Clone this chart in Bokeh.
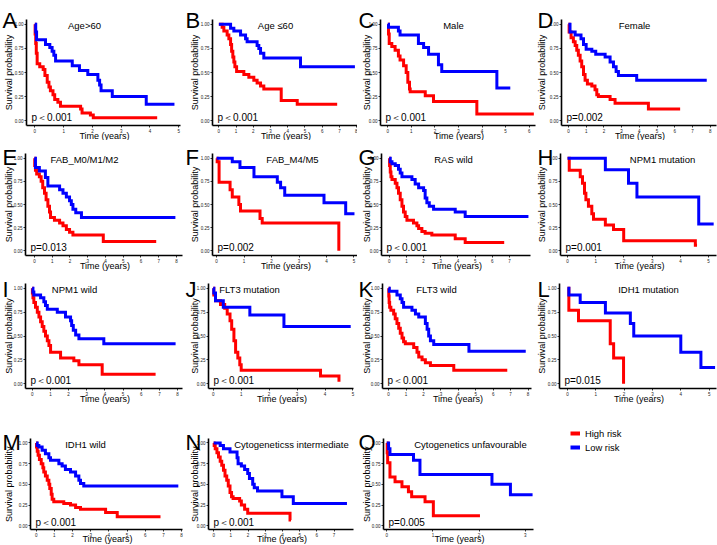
import math
from bokeh.plotting import figure
from bokeh.models import Range1d, FixedTicker, Label, Legend, LegendItem, NumeralTickFormatter
from bokeh.layouts import column, row
from bokeh.embed import file_html
from bokeh.resources import INLINE

# ---------------- data ----------------
panel_letters = ["A", "B", "C", "D", "E", "F", "G", "H", "I", "J", "K", "L", "M", "N", "O"]
panel_titles = ["Age>60", "Age \u226460", "Male", "Female", "FAB_M0/M1/M2", "FAB_M4/M5",
                "RAS wild", "NPM1 mutation", "NPM1 wild", "FLT3 mutation", "FLT3 wild",
                "IDH1 mutation", "IDH1 wild", "Cytogeneticss intermediate",
                "Cytogenetics unfavourable"]
p_values = ["p\uff1c0.001", "p\uff1c0.001", "p\uff1c0.001", "p=0.002", "p=0.013", "p=0.002",
            "p\uff1c0.001", "p=0.001", "p\uff1c0.001", "p\uff1c0.001", "p\uff1c0.001",
            "p=0.015", "p\uff1c0.001", "p\uff1c0.001", "p=0.005"]
x_tick_max = [5, 8, 6, 8, 8, 5, 7, 5, 8, 5, 8, 5, 8, 7, 3]
y_ticks = [0.0, 0.25, 0.5, 0.75, 1.0]
group_labels = ["High risk", "Low risk"]
x_axis_label = "Time (years)"
y_axis_label = "Survival probability"

A_high_time = [0, 0.01, 0.03, 0.05, 0.08, 0.17, 0.29, 0.35, 0.43, 0.49, 0.54, 0.63, 0.69, 0.80, 0.89, 1.59, 1.64, 1.93, 2.03, 4.25]
A_high_surv = [1.0, 0.90, 0.80, 0.70, 0.59, 0.56, 0.53, 0.47, 0.40, 0.35, 0.31, 0.27, 0.22, 0.19, 0.15, 0.12, 0.08, 0.06, 0.03, 0.03]
A_low_time = [0, 0.03, 0.06, 0.37, 0.52, 0.60, 0.66, 0.72, 1.30, 1.55, 1.84, 2.19, 2.25, 2.30, 2.69, 3.87, 4.85]
A_low_surv = [1.0, 0.92, 0.84, 0.79, 0.76, 0.72, 0.68, 0.62, 0.57, 0.52, 0.48, 0.42, 0.37, 0.31, 0.25, 0.17, 0.17]

B_high_time = [0, 0.19, 0.29, 0.48, 0.58, 0.68, 0.74, 0.81, 0.87, 0.93, 1.03, 1.45, 1.74, 2.03, 2.22, 2.42, 2.61, 3.62, 4.55, 6.87]
B_high_surv = [1.0, 0.97, 0.93, 0.89, 0.85, 0.79, 0.72, 0.66, 0.61, 0.56, 0.51, 0.48, 0.45, 0.42, 0.39, 0.36, 0.33, 0.21, 0.17, 0.17]
B_low_time = [0, 0.68, 0.87, 1.26, 1.55, 1.64, 2.22, 2.32, 2.42, 2.61, 4.74, 7.90]
B_low_surv = [1.0, 0.96, 0.93, 0.89, 0.85, 0.82, 0.78, 0.75, 0.70, 0.65, 0.56, 0.56]

C_high_time = [0, 0.03, 0.06, 0.17, 0.31, 0.45, 0.52, 0.67, 0.78, 0.85, 0.92, 0.95, 1.59, 1.94, 3.78, 6.20]
C_high_surv = [1.0, 0.90, 0.80, 0.77, 0.73, 0.67, 0.63, 0.57, 0.50, 0.40, 0.33, 0.30, 0.26, 0.20, 0.07, 0.07]
C_low_time = [0, 0.03, 0.45, 0.52, 1.30, 1.52, 1.73, 2.15, 2.29, 4.63, 5.20]
C_low_surv = [1.0, 0.97, 0.93, 0.89, 0.80, 0.76, 0.69, 0.58, 0.51, 0.34, 0.34]

D_high_time = [0, 0.04, 0.15, 0.28, 0.38, 0.47, 0.56, 0.66, 0.75, 0.85, 0.94, 1.07, 1.32, 1.50, 1.60, 1.69, 2.35, 2.63, 4.51, 6.30]
D_high_surv = [1.0, 0.92, 0.86, 0.82, 0.78, 0.73, 0.68, 0.62, 0.56, 0.48, 0.42, 0.38, 0.36, 0.32, 0.27, 0.25, 0.22, 0.18, 0.12, 0.12]
D_low_time = [0, 0.09, 0.38, 0.71, 0.85, 1.00, 1.32, 1.54, 2.07, 2.35, 2.54, 2.69, 2.82, 3.85, 7.80]
D_low_surv = [1.0, 0.92, 0.89, 0.85, 0.79, 0.74, 0.72, 0.69, 0.66, 0.61, 0.56, 0.51, 0.47, 0.42, 0.42]

E_high_time = [0, 0.02, 0.06, 0.13, 0.28, 0.38, 0.47, 0.57, 0.66, 0.76, 0.85, 0.91, 1.13, 1.42, 1.61, 1.80, 1.98, 2.17, 3.88, 6.86]
E_high_surv = [1.0, 0.92, 0.87, 0.83, 0.80, 0.75, 0.68, 0.62, 0.55, 0.48, 0.42, 0.36, 0.33, 0.30, 0.27, 0.23, 0.20, 0.17, 0.10, 0.10]
E_low_time = [0, 0.06, 0.28, 0.62, 0.76, 1.42, 1.61, 1.80, 1.98, 2.08, 2.17, 2.33, 2.65, 7.94]
E_low_surv = [1.0, 0.90, 0.86, 0.79, 0.70, 0.66, 0.62, 0.58, 0.54, 0.50, 0.45, 0.41, 0.36, 0.36]

F_high_time = [0, 0.02, 0.09, 0.49, 0.57, 0.81, 0.87, 1.58, 1.66, 4.45]
F_high_surv = [1.0, 0.96, 0.74, 0.66, 0.58, 0.50, 0.43, 0.35, 0.30, 0.0]
F_low_time = [0, 0.57, 0.85, 1.36, 2.21, 2.33, 2.48, 3.91, 4.70, 5.02]
F_low_surv = [1.0, 0.96, 0.90, 0.80, 0.74, 0.68, 0.60, 0.52, 0.40, 0.40]

G_high_time = [0, 0.02, 0.06, 0.10, 0.16, 0.35, 0.45, 0.54, 0.64, 0.74, 0.83, 0.93, 1.03, 1.41, 1.61, 1.71, 1.90, 2.09, 2.48, 3.84, 4.42, 6.69]
G_high_surv = [1.0, 0.92, 0.85, 0.80, 0.77, 0.73, 0.68, 0.62, 0.55, 0.48, 0.42, 0.37, 0.33, 0.30, 0.27, 0.24, 0.21, 0.19, 0.17, 0.13, 0.09, 0.09]
G_low_time = [0, 0.06, 0.16, 0.35, 0.54, 0.64, 0.74, 1.32, 1.51, 1.71, 2.00, 2.09, 2.19, 2.33, 2.58, 3.84, 4.42, 8.10]
G_low_surv = [1.0, 0.96, 0.94, 0.92, 0.88, 0.84, 0.80, 0.77, 0.72, 0.68, 0.65, 0.57, 0.52, 0.48, 0.45, 0.42, 0.37, 0.37]

H_high_time = [0, 0.06, 0.45, 0.53, 0.60, 0.65, 0.74, 0.86, 0.92, 1.34, 1.63, 1.99, 4.53, 4.59]
H_high_surv = [1.0, 0.87, 0.80, 0.73, 0.62, 0.55, 0.48, 0.40, 0.34, 0.28, 0.23, 0.11, 0.06, 0.06]
H_low_time = [0, 1.34, 2.16, 2.46, 4.65, 5.18]
H_low_surv = [1.0, 0.875, 0.73, 0.58, 0.29, 0.29]

I_high_time = [0, 0.01, 0.04, 0.09, 0.18, 0.28, 0.37, 0.46, 0.55, 0.64, 0.73, 0.83, 0.92, 1.01, 1.56, 2.29, 2.57, 3.85, 6.79]
I_high_surv = [1.0, 0.95, 0.90, 0.85, 0.80, 0.75, 0.70, 0.65, 0.60, 0.55, 0.50, 0.45, 0.40, 0.33, 0.27, 0.24, 0.20, 0.10, 0.10]
I_low_time = [0, 0.04, 0.09, 0.46, 0.64, 0.73, 0.83, 1.38, 1.83, 2.11, 2.17, 2.26, 2.39, 2.57, 3.94, 7.89]
I_low_surv = [1.0, 0.96, 0.93, 0.90, 0.86, 0.82, 0.78, 0.75, 0.70, 0.66, 0.61, 0.56, 0.51, 0.47, 0.42, 0.42]

J_high_time = [0, 0.02, 0.08, 0.26, 0.41, 0.50, 0.60, 0.66, 0.74, 0.80, 0.88, 0.95, 1.00, 3.84, 4.50]
J_high_surv = [1.0, 0.93, 0.87, 0.83, 0.79, 0.73, 0.66, 0.57, 0.45, 0.33, 0.27, 0.20, 0.14, 0.08, 0.02]
J_low_time = [0, 0.02, 0.08, 0.36, 1.31, 2.53, 4.92]
J_low_surv = [1.0, 0.95, 0.87, 0.80, 0.72, 0.60, 0.60]

K_high_time = [0, 0.01, 0.03, 0.06, 0.13, 0.29, 0.38, 0.48, 0.58, 0.67, 0.77, 0.86, 0.96, 1.44, 1.63, 1.73, 1.92, 2.11, 2.40, 3.74, 6.81]
K_high_surv = [1.0, 0.92, 0.85, 0.80, 0.77, 0.73, 0.68, 0.63, 0.58, 0.53, 0.48, 0.44, 0.42, 0.38, 0.33, 0.28, 0.25, 0.22, 0.19, 0.14, 0.14]
K_low_time = [0, 0.04, 0.48, 0.67, 0.77, 0.86, 1.34, 1.54, 1.73, 2.11, 2.21, 2.30, 2.40, 2.59, 4.61, 7.87]
K_low_surv = [1.0, 0.97, 0.93, 0.89, 0.85, 0.80, 0.77, 0.73, 0.70, 0.63, 0.57, 0.50, 0.45, 0.41, 0.34, 0.34]

L_high_time = [0, 0.05, 0.39, 1.51, 1.63, 1.98]
L_high_surv = [1.0, 0.77, 0.66, 0.42, 0.27, 0.0]
L_low_time = [0, 0.05, 0.45, 1.34, 2.22, 2.34, 4.00, 4.71, 5.21]
L_low_surv = [1.0, 0.93, 0.85, 0.74, 0.63, 0.50, 0.33, 0.17, 0.17]

M_high_time = [0, 0.02, 0.06, 0.11, 0.18, 0.28, 0.37, 0.42, 0.51, 0.61, 0.70, 0.75, 0.83, 0.88, 0.97, 1.52, 1.89, 2.17, 2.44, 3.82, 4.46, 6.84]
M_high_surv = [1.0, 0.95, 0.90, 0.85, 0.80, 0.75, 0.70, 0.65, 0.60, 0.55, 0.50, 0.45, 0.38, 0.32, 0.29, 0.27, 0.25, 0.22, 0.20, 0.16, 0.11, 0.11]
M_low_time = [0, 0.06, 0.15, 0.33, 0.51, 0.70, 0.79, 1.25, 1.43, 1.61, 1.89, 2.17, 2.35, 2.44, 2.62, 7.82]
M_low_surv = [1.0, 0.97, 0.95, 0.91, 0.87, 0.82, 0.79, 0.75, 0.72, 0.68, 0.65, 0.60, 0.55, 0.51, 0.48, 0.48]

N_high_time = [0, 0.03, 0.09, 0.19, 0.28, 0.38, 0.47, 0.57, 0.66, 0.76, 0.85, 0.95, 1.04, 1.13, 1.51, 1.61, 1.80, 1.98, 4.44, 4.50]
N_high_surv = [1.0, 0.97, 0.93, 0.88, 0.83, 0.78, 0.73, 0.67, 0.60, 0.55, 0.48, 0.40, 0.35, 0.33, 0.30, 0.25, 0.20, 0.15, 0.07, 0.07]
N_low_time = [0, 0.38, 0.57, 0.95, 1.36, 1.42, 1.61, 1.80, 1.98, 2.08, 2.27, 2.36, 2.55, 3.97, 4.63, 7.75]
N_low_surv = [1.0, 0.97, 0.93, 0.89, 0.82, 0.75, 0.72, 0.68, 0.63, 0.57, 0.50, 0.46, 0.42, 0.35, 0.27, 0.27]

O_high_time = [0, 0.01, 0.02, 0.07, 0.18, 0.33, 0.47, 0.54, 0.83, 1.01, 2.02]
O_high_surv = [1.0, 0.88, 0.76, 0.59, 0.53, 0.47, 0.41, 0.35, 0.29, 0.12, 0.12]
O_low_time = [0, 0.04, 0.07, 0.58, 0.72, 2.28, 2.68, 3.16]
O_low_surv = [1.0, 0.93, 0.86, 0.79, 0.62, 0.50, 0.375, 0.375]

high_times = [A_high_time, B_high_time, C_high_time, D_high_time, E_high_time, F_high_time, G_high_time, H_high_time,
              I_high_time, J_high_time, K_high_time, L_high_time, M_high_time, N_high_time, O_high_time]
high_survs = [A_high_surv, B_high_surv, C_high_surv, D_high_surv, E_high_surv, F_high_surv, G_high_surv, H_high_surv,
              I_high_surv, J_high_surv, K_high_surv, L_high_surv, M_high_surv, N_high_surv, O_high_surv]
low_times = [A_low_time, B_low_time, C_low_time, D_low_time, E_low_time, F_low_time, G_low_time, H_low_time,
             I_low_time, J_low_time, K_low_time, L_low_time, M_low_time, N_low_time, O_low_time]
low_survs = [A_low_surv, B_low_surv, C_low_surv, D_low_surv, E_low_surv, F_low_surv, G_low_surv, H_low_surv,
             I_low_surv, J_low_surv, K_low_surv, L_low_surv, M_low_surv, N_low_surv, O_low_surv]

# ---------------- layout / style (pixel coordinates; the Bokeh page itself has no body margin) ----------------
COL_X = [0, 183, 357, 536, 717]
ROW_Y = [0, 140, 273, 409, 545]
FRAME_Y = [(19, 125), (153, 255), (283, 388), (422, 527)]
AXIS_X = [(26, 180), (212, 357), (380, 535), (561, 716), (25, 182), (212, 357), (381, 530), (560, 716),
          (25, 182), (208, 353), (382, 531), (559, 716), (30, 182), (208, 353), (383, 533)]
X_RANGES = [(-0.29, 5.06), (-0.37, 8.05), (-0.31, 6.27), (-0.39, 8.35), (-0.5, 8.34), (-0.15, 5.13),
            (-0.45, 8.22), (-0.25, 5.28), (-0.37, 8.27), (-0.17, 5.02), (-0.35, 8.2), (-0.28, 5.26),
            (-0.31, 8.05), (-0.30, 8.13), (-0.07, 3.18)]
Y_LIMITS = (-0.05, 1.05)
TITLE_X = [84, 275, 453, 634, 84, 292, 453, 662, 74, 249, 436, 648, 85, 291, 470]
YLAB_X = [8, 194, 366, 541]
LETTER_X = [2, 185, 358, 537]
LETTER_BASE = [20, 157, 289, 426]
FONT = "Liberation Sans"
RED = "#FF0000"
BLUE = "#0000FF"

figs = []
for i in range(15):
    r, c = divmod(i, 4)
    axl, axr = AXIS_X[i]
    ft, fb = FRAME_Y[r]
    fig_w = COL_X[c + 1] - COL_X[c]
    fig_h = ROW_Y[r + 1] - ROW_Y[r]
    left = axl - COL_X[c]
    frame_w = axr - axl
    right = fig_w - left - frame_w
    top = ft - ROW_Y[r]
    frame_h = fb - ft
    bottom = fig_h - top - frame_h

    lo, hi = X_RANGES[i]
    ylo, yhi = Y_LIMITS
    xpp = (hi - lo) / frame_w
    ypp = (yhi - ylo) / frame_h
    x_start = lo - left * xpp
    x_end = hi + right * xpp
    y_start = ylo - bottom * ypp
    y_end = yhi + top * ypp

    def dx(px):  # px from figure left -> data x
        return x_start + px * xpp

    def dy(py):  # px from figure top -> data y
        return y_end - py * ypp

    p = figure(width=fig_w, height=fig_h, x_range=Range1d(x_start, x_end), y_range=Range1d(y_start, y_end),
               output_backend="svg", toolbar_location=None, title=None, min_border=0)
    p.outline_line_color = None
    p.grid.visible = False
    p.background_fill_color = "white"
    p.border_fill_color = "white"

    p.xaxis.fixed_location = ylo
    p.xaxis.bounds = (lo, hi)
    p.yaxis.fixed_location = lo
    p.yaxis.bounds = (ylo, yhi)
    p.xaxis.ticker = FixedTicker(ticks=list(range(0, x_tick_max[i] + 1)))
    p.yaxis.ticker = FixedTicker(ticks=y_ticks)
    p.yaxis.formatter = NumeralTickFormatter(format="0.00")
    for ax in (p.xaxis, p.yaxis):
        ax.axis_line_color = "black"
        ax.axis_line_width = 1.6
        ax.major_tick_line_color = "black"
        ax.major_tick_line_width = 0.8
        ax.major_tick_in = 0
        ax.major_tick_out = 2
        ax.minor_tick_line_color = None
        ax.major_label_text_font = FONT
        ax.major_label_text_font_size = "4.5px"
        ax.major_label_text_color = "#222222"
        ax.major_label_standoff = 1

    p.step(x=high_times[i], y=high_survs[i], mode="after", line_color=RED, line_width=3, line_join="miter")
    p.step(x=low_times[i], y=low_survs[i], mode="after", line_color=BLUE, line_width=3, line_join="miter")

    p.add_layout(Label(x=dx(LETTER_X[c] - COL_X[c]), y=dy(LETTER_BASE[r] - ROW_Y[r]),
                       text=panel_letters[i], text_font=FONT, text_font_size="22px",
                       text_align="left", text_baseline="alphabetic", text_color="black"))
    p.add_layout(Label(x=dx(YLAB_X[c] - COL_X[c]), y=(ylo + yhi) / 2,
                       text=y_axis_label, angle=math.pi / 2, text_font=FONT, text_font_size="9px",
                       text_align="center", text_baseline="middle", text_color="black"))
    p.add_layout(Label(x=(lo + hi) / 2 + xpp, y=dy(fb + 10 - ROW_Y[r]),
                       text=x_axis_label, text_font=FONT, text_font_size="9px",
                       text_align="center", text_baseline="middle", text_color="black"))
    p.add_layout(Label(x=dx(TITLE_X[i] - COL_X[c]), y=0.985,
                       text=panel_titles[i], text_font=FONT, text_font_size="9.5px",
                       text_align="center", text_baseline="middle", text_color="black"))
    p.add_layout(Label(x=lo + 5 * xpp, y=0.035,
                       text=p_values[i], text_font=FONT, text_font_size="10px",
                       text_align="left", text_baseline="middle", text_color="black"))
    figs.append(p)

# legend panel
lw = COL_X[4] - COL_X[3]
lh = ROW_Y[4] - ROW_Y[3]
leg_left = 570 - COL_X[3]
leg_top = 433 - ROW_Y[3] - 6
lp = figure(width=lw, height=lh, x_range=Range1d(0, 1), y_range=Range1d(0, 1),
            x_axis_location=None, y_axis_location=None, output_backend="svg",
            toolbar_location=None, title=None,
            min_border_left=leg_left, min_border_top=leg_top, min_border_right=0, min_border_bottom=0)
lp.outline_line_color = None
lp.grid.visible = False
nan = float("nan")
r_hi = lp.line(x=[nan, nan], y=[nan, nan], line_color=RED, line_width=4)
r_lo = lp.line(x=[nan, nan], y=[nan, nan], line_color=BLUE, line_width=4)
legend = Legend(items=[LegendItem(label=group_labels[0], renderers=[r_hi]),
                       LegendItem(label=group_labels[1], renderers=[r_lo])],
                location="top_left",
                border_line_color=None, background_fill_alpha=0,
                glyph_width=10, glyph_height=12, label_height=12, label_standoff=5,
                spacing=2, padding=0, margin=0,
                label_text_font=FONT, label_text_font_size="9.4px", label_text_color="black")
lp.add_layout(legend)

layout = column(row(*figs[0:4]), row(*figs[4:8]), row(*figs[8:12]), row(*figs[12:15], lp))

with open("out.html", "w") as f:
    f.write(file_html(layout, INLINE))
